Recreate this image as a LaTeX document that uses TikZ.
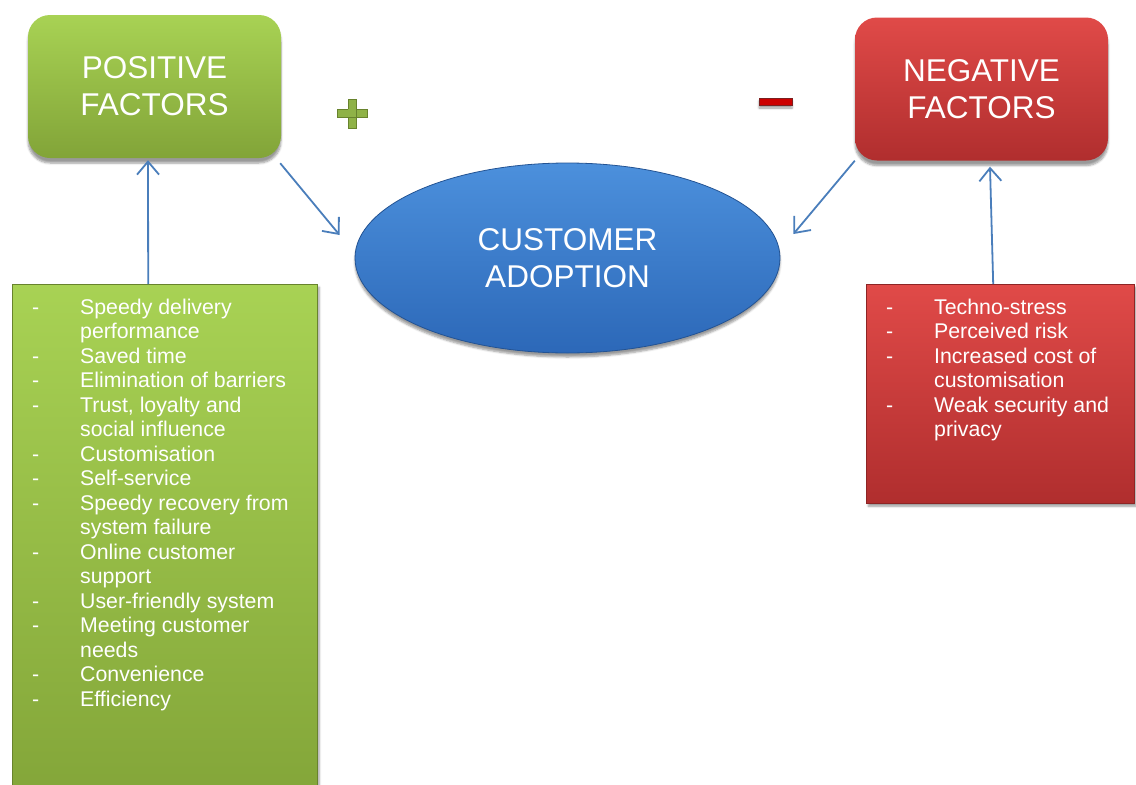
\documentclass[tikz,border=0pt]{standalone}
\usepackage{fontspec}
\setmainfont{Liberation Sans}
\usetikzlibrary{positioning, arrows.meta, shapes.geometric, shadows.blur}

\begin{document}
\begin{tikzpicture}[
        x=1pt, y=-1pt,
        >={Straight Barb[length=13pt,width=22pt]},
        font=\fontsize{31.5}{37}\selectfont
    ]
        % Colours of the three groups
        \definecolor{posgreen}{RGB}{168,210,84}
        \definecolor{posgreendark}{RGB}{130,164,56}
        \definecolor{negred}{RGB}{224,74,72}
        \definecolor{negreddark}{RGB}{176,46,46}
        \definecolor{adoptblue}{RGB}{76,144,220}
        \definecolor{adoptbluedark}{RGB}{44,104,184}
        \definecolor{linkblue}{RGB}{74,126,187}

        % Node styles
        \tikzstyle{factor}=[
            rounded corners=22pt,
            minimum width=253pt,
            minimum height=143pt,
            inner sep=0pt,
            align=center,
            text=white,
            blur shadow={shadow xshift=0pt, shadow yshift=-5pt, shadow blur steps=6}
        ]
        \tikzstyle{listbox}=[
            anchor=north west,
            inner sep=0pt,
            blur shadow={shadow xshift=2pt, shadow yshift=-3pt, shadow blur steps=5}
        ]
        \tikzstyle{listtext}=[anchor=base west, inner sep=0pt, text=white,
            font=\fontsize{21.3}{24.5}\selectfont]
        \tikzstyle{link}=[->, linkblue, line width=1.8pt]

        \useasboundingbox (0,0) rectangle (1136,785);

        % --- Top row ---
        \node[factor, top color=posgreen, bottom color=posgreendark] (pos) at (154.5,86.5) {POSITIVE\\FACTORS};
        \node[factor, top color=negred, bottom color=negreddark] (neg) at (981.5,89) {NEGATIVE\\FACTORS};

        % --- Centre ---
        \node[ellipse, minimum width=425pt, minimum height=190pt, inner sep=0pt,
            align=center, text=white, top color=adoptblue, bottom color=adoptbluedark,
            draw=adoptbluedark!80!black, line width=0.8pt,
            blur shadow={shadow xshift=0pt, shadow yshift=-4pt, shadow blur steps=5}]
            (adopt) at (567.5,258) {CUSTOMER\\ADOPTION};

        % --- Plus and minus signs ---
        \fill[posgreen!85!black, draw=posgreendark!80!black, line width=0.6pt]
            (348,99) rectangle (356,128) (337,109) rectangle (367,117);
        \fill[posgreen!85!black] (348.4,109.4) rectangle (355.6,116.6);
        \fill[red!80!black, draw=negreddark!70!black, line width=0.6pt,
            blur shadow={shadow xshift=0pt, shadow yshift=-3pt, shadow blur steps=4}]
            (759,98) rectangle (792,105);

        % --- Lists of factors ---
        \node[listbox, minimum width=305pt, minimum height=530pt,
            top color=posgreen, bottom color=posgreendark, draw=posgreendark!80!black]
            (poslist) at (12,284) {};
        \node[listtext] (postext) at (32,314) {%
            \begin{tabular}[t]{@{}p{48pt}@{}l@{}}
            - & Speedy delivery\\
              & performance\\
            - & Saved time\\
            - & Elimination of barriers\\
            - & Trust, loyalty and\\
              & social influence\\
            - & Customisation\\
            - & Self-service\\
            - & Speedy recovery from\\
              & system failure\\
            - & Online customer\\
              & support\\
            - & User-friendly system\\
            - & Meeting customer\\
              & needs\\
            - & Convenience\\
            - & Efficiency
            \end{tabular}};

        \node[listbox, minimum width=268pt, minimum height=219pt,
            top color=negred, bottom color=negreddark, draw=negreddark!80!black]
            (neglist) at (866,284) {};
        \node[listtext] (negtext) at (886,314) {%
            \begin{tabular}[t]{@{}p{48pt}@{}l@{}}
            - & Techno-stress\\
            - & Perceived risk\\
            - & Increased cost of\\
              & customisation\\
            - & Weak security and\\
              & privacy
            \end{tabular}};

        % --- Connections ---
        \draw[link] ([xshift=-16.5pt]poslist.north) -- ([xshift=-6.5pt,yshift=-2pt]pos.south);
        \draw[link] ([xshift=-1pt,yshift=-5pt]pos.south east) -- ([xshift=-15pt,yshift=23pt]adopt.west);
        \draw[link] (neg.south west) -- ([xshift=13pt,yshift=24pt]adopt.east);
        \draw[link] ([xshift=-7pt]neglist.north) -- ([xshift=8.5pt,yshift=-6pt]neg.south);

    \end{tikzpicture}
\end{document}
